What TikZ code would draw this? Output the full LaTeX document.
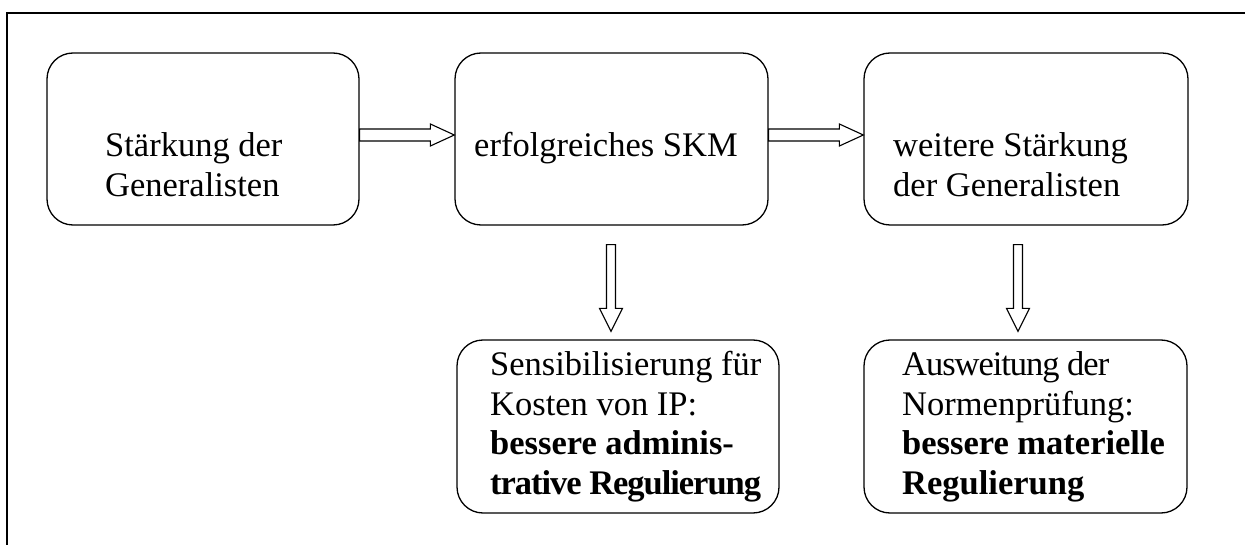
\documentclass[tikz,border=0pt]{standalone}
\usepackage{fontspec}
\setmainfont{Liberation Serif}
\usetikzlibrary{calc}
\tikzset{
  box/.style={draw, line width=1.3pt, rounded corners=26pt, minimum width=#1, minimum height=172pt, inner sep=0pt},
  txt/.style={anchor=base west, inner sep=0pt, align=left, font=\fontsize{34.5pt}{39.5pt}\selectfont},
  blockarrow/.style={draw, line width=1.1pt, fill=white, line join=miter},
  frame/.style={line width=2.6pt}
}
\begin{document}
\begin{tikzpicture}[x=1pt,y=-1pt]
\useasboundingbox (0,0) rectangle (1245,545);
\draw[frame] (7,545) -- (7,13) -- (1245,13);
% boxes
\node[box=312pt] (b1) at (203,139) {};
\node[box=313pt] (b2) at (611.5,139) {};
\node[box=324pt] (b3) at (1026,139) {};
\node[box=322pt, minimum height=173pt] (b4) at (618,426.5) {};
\node[box=323pt, minimum height=173pt] (b5) at (1025.5,426.5) {};
% texts (anchored at the baseline of the last line)
\node[txt] (t1) at (105,196.5) {Stärkung der\\Generalisten};
\node[txt] (t2) at (474,157) {erfolgreiches SKM};
\node[txt] (t3) at (893,196.5) {weitere Stärkung\\der Generalisten};
\node[txt] (t4) at (490,494) {Sensibilisierung für\\Kosten von IP:\\\textbf{bessere adminis-}\\{\addfontfeature{LetterSpace=-3}\textbf{trative Regulierung}}};
\node[txt] (t5) at (902,494) {{\addfontfeature{LetterSpace=-3}Ausweitung der}\\Normenprüfung:\\\textbf{bessere materielle}\\\textbf{Regulierung}};
% horizontal block arrows
\foreach \a/\b in {b1/b2, b2/b3}{
  \draw[blockarrow]
    let \p1=(\a.east), \p2=(\b.west) in
    (\x1,129) -- (\x2-24,129) -- (\x2-24,124) -- (\x2,135) -- (\x2-24,146) -- (\x2-24,141) -- (\x1,141) -- cycle;
}
% vertical block arrows
\foreach \a/\b/\c in {b2/b4/611, b3/b5/1018}{
  \draw[blockarrow]
    let \p1=(\a.south), \p2=(\b.north) in
    (\c-4.5,\y1-19) -- (\c-4.5,\y2+31) -- (\c-11.5,\y2+31) -- (\c,\y2+8) -- (\c+11.5,\y2+31) -- (\c+4.5,\y2+31) -- (\c+4.5,\y1-19) -- cycle;
}
\end{tikzpicture}
\end{document}
